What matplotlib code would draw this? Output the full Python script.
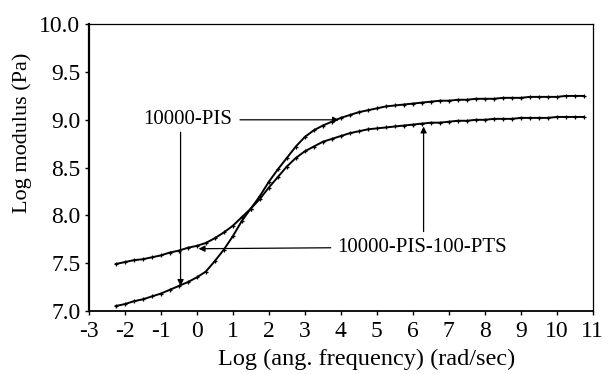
import matplotlib.pyplot as plt
import numpy as np

# log angular frequency (rad/sec)
freq = [-2.25, -2.0, -1.75, -1.5, -1.25, -1.0, -0.75, -0.5, -0.25, 0.0,
        0.25, 0.5, 0.75, 1.0, 1.25, 1.5, 1.75, 2.0, 2.25, 2.5,
        2.75, 3.0, 3.25, 3.5, 3.75, 4.0, 4.25, 4.5, 4.75, 5.0,
        5.25, 5.5, 5.75, 6.0, 6.25, 6.5, 6.75, 7.0, 7.25, 7.5,
        7.75, 8.0, 8.25, 8.5, 8.75, 9.0, 9.25, 9.5, 9.75, 10.0,
        10.25, 10.5, 10.75]

# log modulus (Pa)
pis = [7.05, 7.07, 7.10, 7.12, 7.15, 7.18, 7.22, 7.26, 7.30, 7.35,
       7.41, 7.52, 7.64, 7.78, 7.94, 8.07, 8.20, 8.35, 8.48, 8.60,
       8.72, 8.82, 8.89, 8.94, 8.98, 9.02, 9.05, 9.08, 9.10, 9.12,
       9.14, 9.15, 9.16, 9.17, 9.18, 9.19, 9.20, 9.20, 9.21, 9.21,
       9.22, 9.22, 9.22, 9.23, 9.23, 9.23, 9.24, 9.24, 9.24, 9.24,
       9.25, 9.25, 9.25]
pis_pts = [7.49, 7.51, 7.53, 7.54, 7.56, 7.58, 7.61, 7.63, 7.66, 7.68,
           7.71, 7.76, 7.82, 7.89, 7.98, 8.07, 8.17, 8.29, 8.40, 8.51,
           8.60, 8.67, 8.72, 8.77, 8.80, 8.83, 8.86, 8.88, 8.90, 8.91,
           8.92, 8.93, 8.94, 8.95, 8.96, 8.97, 8.97, 8.98, 8.99, 8.99,
           9.00, 9.00, 9.01, 9.01, 9.01, 9.02, 9.02, 9.02, 9.02, 9.03,
           9.03, 9.03, 9.03]

plt.rcParams['font.family'] = ['Liberation Serif', 'DejaVu Serif']
plt.rcParams['axes.unicode_minus'] = False

fig = plt.figure(figsize=(6.08, 3.74), dpi=100)
ax = fig.add_axes([0.146, 0.169, 0.829, 0.766])

ax.plot(freq, pis, color='black', lw=1.4, marker='+', ms=3.5, mew=0.9)
ax.plot(freq, pis_pts, color='black', lw=1.4, marker='+', ms=3.5, mew=0.9)

ax.set_xlim(-3, 11)
ax.set_ylim(7.0, 10.0)
ax.set_xticks(range(-3, 12))
ax.set_yticks(np.arange(7.0, 10.01, 0.5))
ax.set_yticklabels(['%.1f' % v for v in np.arange(7.0, 10.01, 0.5)])
ax.tick_params(direction='out', length=3, width=1, labelsize=17, colors='black')
ax.tick_params(axis='x', pad=4)
ax.tick_params(axis='y', pad=3)

ax.spines['left'].set_linewidth(1.6)
ax.spines['bottom'].set_linewidth(1.3)
ax.spines['top'].set_linewidth(0.9)
ax.spines['right'].set_linewidth(0.9)

ax.set_xlabel("Log (ang. frequency) (rad/sec)", fontsize=17.5)
ax.xaxis.set_label_coords(0.552, -0.133)
ax.set_ylabel("Log modulus (Pa)", fontsize=16)
ax.yaxis.set_label_coords(-0.112, 0.62)

arr = dict(arrowstyle='-|>', color='black', lw=0.9, mutation_scale=9, shrinkA=0, shrinkB=0)

# 10000-PIS label
ax.text(-0.25, 9.0, "10000-PIS", fontsize=15, ha='center', va='center')
ax.annotate("", xy=(3.95, 9.0), xytext=(1.2, 9.0), arrowprops=arr)
ax.annotate("", xy=(-0.45, 7.26), xytext=(-0.45, 8.87), arrowprops=arr)

# 10000-PIS-100-PTS label
ax.text(3.9, 7.66, "10000-PIS-100-PTS", fontsize=15, ha='left', va='center')
ax.annotate("", xy=(0.05, 7.65), xytext=(3.72, 7.66), arrowprops=arr)
ax.annotate("", xy=(6.3, 8.93), xytext=(6.3, 7.83), arrowprops=arr)

fig.savefig("out.png", dpi=100)
